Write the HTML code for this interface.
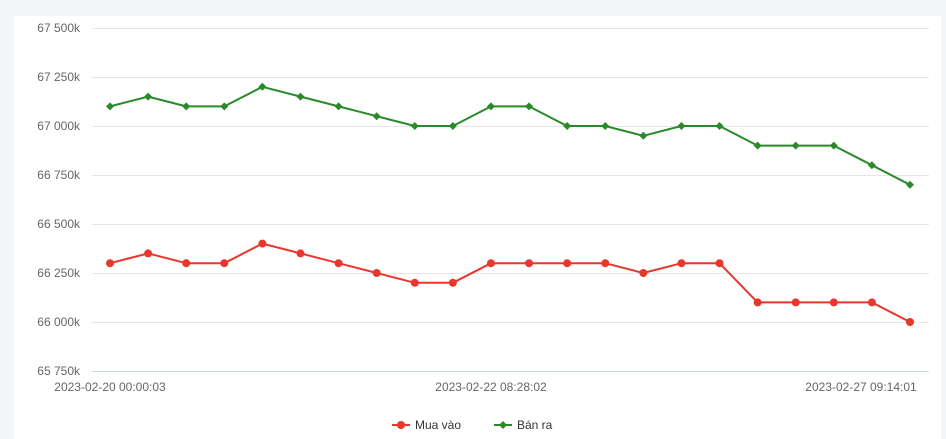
<!DOCTYPE html>
<html><head><meta charset="utf-8"><style>
html,body{margin:0;padding:0;background:#f3f5f9;width:946px;height:439px;overflow:hidden}
svg{display:block;font-family:"Liberation Sans",sans-serif}
</style></head><body>
<svg id="s" width="946" height="439" xmlns="http://www.w3.org/2000/svg">
<rect x="0" y="0" width="946" height="439" fill="#f3f5f9"/>
<rect x="14" y="16" width="927" height="423" fill="#ffffff"/>
<g id="grid"></g>
<g font-size="12" fill="#666">
<text x="2023" y="0"></text>
</g>
<text x="110" y="391" font-size="12" fill="#666" text-anchor="middle">2023-02-20 00:00:03</text>
<text x="491" y="391" font-size="12" fill="#666" text-anchor="middle">2023-02-22 08:28:02</text>
<text x="861" y="391" font-size="12" fill="#666" text-anchor="middle">2023-02-27 09:14:01</text>
<g id="series"></g>
<g font-size="12" fill="#333">
<line x1="392" y1="425" x2="410" y2="425" stroke="#e8372c" stroke-width="2"/>
<circle cx="401" cy="425" r="4" fill="#e8372c"/>
<text x="415" y="429">Mua vào</text>
<line x1="494" y1="425" x2="512" y2="425" stroke="#2a8a2a" stroke-width="2"/>
<path d="M503 421 L507 425 L503 429 L499 425Z" fill="#2a8a2a"/>
<text x="517" y="429">Bán ra</text>
</g>
</svg>
<script>
var NS="http://www.w3.org/2000/svg";
function el(t,a,p){var e=document.createElementNS(NS,t);for(var k in a)e.setAttribute(k,a[k]);p.appendChild(e);return e;}
var g=document.getElementById('grid');
var labels=["67 500k","67 250k","67 000k","66 750k","66 500k","66 250k","66 000k","65 750k"];
for(var i=0;i<8;i++){var y=28+i*49;
el('line',{x1:92,x2:929,y1:y+0.5,y2:y+0.5,stroke:i==7?'#ccd6eb':'#e6e6e6','stroke-width':1},g);
var t=el('text',{x:80,y:y+4,'font-size':12,fill:'#666','text-anchor':'end'},g);t.textContent=labels[i];}
var G=[67100,67150,67100,67100,67200,67150,67100,67050,67000,67000,67100,67100,67000,67000,66950,67000,67000,66900,66900,66900,66800,66700];
var R=[66300,66350,66300,66300,66400,66350,66300,66250,66200,66200,66300,66300,66300,66300,66250,66300,66300,66100,66100,66100,66100,66000];
function X(i){return 110+i*800/21;}function Y(v){return 28+(67500-v)/250*49;}
var s=document.getElementById('series');
function line(d,c){var p=d.map(function(v,i){return X(i).toFixed(1)+','+Y(v).toFixed(1)}).join(' ');
el('polyline',{points:p,fill:'none',stroke:c,'stroke-width':2,'stroke-linejoin':'round'},s);}
line(R,'#e8372c');line(G,'#2a8a2a');
R.forEach(function(v,i){el('circle',{cx:X(i),cy:Y(v),r:4,fill:'#e8372c'},s);});
G.forEach(function(v,i){var x=X(i),y=Y(v);el('path',{d:'M'+x+' '+(y-4)+' L'+(x+4)+' '+y+' L'+x+' '+(y+4)+' L'+(x-4)+' '+y+'Z',fill:'#2a8a2a'},s);});
</script>
</body></html>
